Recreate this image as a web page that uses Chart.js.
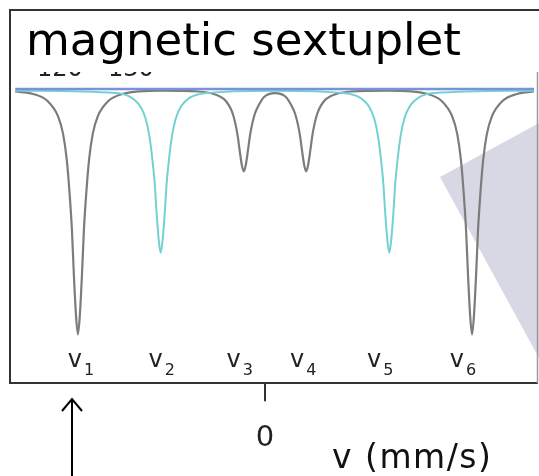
<!DOCTYPE html>
<html>
<head>
<meta charset="utf-8">
<script src="https://cdn.jsdelivr.net/npm/chart.js@4/dist/chart.umd.min.js"></script>
<style>
  html, body { margin: 0; padding: 0; background: #fff; overflow: hidden; }
  canvas { display: block; }
</style>
</head>
<body>
<canvas id="c" width="539" height="476"></canvas>
<script>
// ---- data -------------------------------------------------------------
const chartTitle = 'magnetic sextuplet';
const hiddenTickLabels = ['120', '130'];
const axisTitle = 'v (mm/s)';
const xTickValues = [0];

// the six absorption lines of the sextet (velocity in mm/s)
const lineNames = ['1', '2', '3', '4', '5', '6'];
const linePositions = [-5.04, -2.81, -0.57, 1.11, 3.35, 5.58];

// lines 1, 3, 4, 6 (intensity 3 : 1 : 1 : 3), absorption below the baseline
const lines1346Velocity = [
  -6.73, -6.25, -5.85, -5.58, -5.44, -5.34, -5.26, -5.20, -5.15, -5.09, -5.04,
  -4.99, -4.93, -4.88, -4.82, -4.74, -4.64, -4.50, -4.23, -3.83, -2.80,
  -1.78, -1.38, -1.11, -0.97, -0.87, -0.79, -0.73, -0.68, -0.62, -0.57,
  -0.52, -0.46, -0.41, -0.35, -0.27, -0.17, -0.03, 0.27,
  0.57, 0.71, 0.81, 0.89, 0.95, 1.00, 1.06, 1.11,
  1.16, 1.22, 1.27, 1.33, 1.41, 1.51, 1.65, 1.92, 2.32, 3.35,
  4.37, 4.77, 5.04, 5.18, 5.28, 5.36, 5.42, 5.47, 5.53, 5.58,
  5.63, 5.69, 5.74, 5.80, 5.88, 5.98, 6.12, 6.39, 6.79, 7.25
];
const lines1346Absorption = [
  -0.02, -0.05, -0.14, -0.32, -0.54, -0.86, -1.30, -1.73, -2.26, -2.78, -3.00,
  -2.78, -2.26, -1.73, -1.30, -0.86, -0.54, -0.32, -0.14, -0.05, -0.01,
  -0.02, -0.05, -0.11, -0.19, -0.29, -0.43, -0.58, -0.75, -0.93, -1.00,
  -0.93, -0.75, -0.58, -0.43, -0.29, -0.19, -0.09, -0.04,
  -0.09, -0.19, -0.29, -0.43, -0.58, -0.75, -0.93, -1.00,
  -0.93, -0.75, -0.58, -0.43, -0.29, -0.19, -0.11, -0.05, -0.02, -0.01,
  -0.05, -0.14, -0.32, -0.54, -0.86, -1.30, -1.73, -2.26, -2.78, -3.00,
  -2.78, -2.26, -1.73, -1.30, -0.86, -0.54, -0.32, -0.14, -0.05, -0.02
];

// lines 2 and 5 (intensity 2)
const lines25Velocity = [
  -6.73, -4.02, -3.62, -3.35, -3.21, -3.11, -3.03, -2.97, -2.92, -2.86, -2.81,
  -2.76, -2.70, -2.65, -2.59, -2.51, -2.41, -2.27, -2.00, -1.60, 0.27,
  2.14, 2.54, 2.81, 2.95, 3.05, 3.13, 3.19, 3.24, 3.30, 3.35,
  3.40, 3.46, 3.51, 3.57, 3.65, 3.75, 3.89, 4.16, 4.56, 7.25
];
const lines25Absorption = [
  -0.01, -0.04, -0.09, -0.21, -0.36, -0.58, -0.87, -1.15, -1.51, -1.85, -2.00,
  -1.85, -1.51, -1.15, -0.87, -0.58, -0.36, -0.21, -0.09, -0.04, -0.01,
  -0.04, -0.09, -0.21, -0.36, -0.58, -0.87, -1.15, -1.51, -1.85, -2.00,
  -1.85, -1.51, -1.15, -0.87, -0.58, -0.36, -0.21, -0.09, -0.04, -0.01
];

// flat baseline of the spectrum
const baselineVelocity = [-6.73, 7.25];
const baselineLevel = [0.01, 0.01];

// ---- helpers ------------------------------------------------------------
const zip = (xs, ys) => xs.map((x, i) => ({ x, y: ys[i] }));
const FONT = '"DejaVu Sans", Verdana, sans-serif';

// frame, captions, line names, arrow and the shaded wedge on the right
const decorations = {
  id: 'decorations',
  beforeDatasetsDraw(chart) {
    const ctx = chart.ctx;
    ctx.save();
    ctx.fillStyle = '#d8d8e4';
    ctx.beginPath();
    ctx.moveTo(440, 177);
    ctx.lineTo(539, 123);
    ctx.lineTo(539, 358);
    ctx.closePath();
    ctx.fill();
    ctx.restore();
  },
  afterDraw(chart, args, opts) {
    const ctx = chart.ctx;
    const area = chart.chartArea;
    const xs = chart.scales.x;
    ctx.save();

    // frame: top and left in dark grey, a thin right edge
    ctx.strokeStyle = '#333';
    ctx.lineWidth = 2;
    ctx.beginPath();
    ctx.moveTo(area.left, area.bottom);
    ctx.lineTo(area.left, area.top);
    ctx.lineTo(539, area.top);
    ctx.stroke();
    ctx.strokeStyle = '#9a9a9a';
    ctx.lineWidth = 1.5;
    ctx.beginPath();
    ctx.moveTo(area.right + 0.5, 72);
    ctx.lineTo(area.right + 0.5, area.bottom);
    ctx.stroke();

    // title inside the frame
    ctx.fillStyle = '#000';
    ctx.font = '45px ' + FONT;
    ctx.textBaseline = 'alphabetic';
    ctx.textAlign = 'left';
    ctx.fillText(chartTitle, 26, 55);

    // tick labels of an upper axis, almost fully hidden under the title band
    ctx.save();
    ctx.beginPath();
    ctx.rect(area.left + 2, 72, 200, 4);
    ctx.clip();
    ctx.fillStyle = '#222';
    ctx.font = '24px ' + FONT;
    ctx.fillText(hiddenTickLabels[0], 37, 75.5);
    ctx.fillText(hiddenTickLabels[1], 108, 75.5);
    ctx.restore();

    // line names v1 ... v6 under each absorption line
    ctx.fillStyle = '#222';
    linePositions.forEach((v, i) => {
      const cx = xs.getPixelForValue(v) + opts.labelShift[i];
      ctx.font = '24px ' + FONT;
      const wv = ctx.measureText('v').width;
      ctx.font = '16px ' + FONT;
      const wd = ctx.measureText(lineNames[i]).width;
      const left = cx - (wv + 2 + wd) / 2;
      ctx.font = '24px ' + FONT;
      ctx.fillText('v', left, 367);
      ctx.font = '16px ' + FONT;
      ctx.fillText(lineNames[i], left + wv + 2, 375);
    });

    // axis caption
    ctx.fillStyle = '#111';
    ctx.font = '33px ' + FONT;
    ctx.letterSpacing = '1.5px';
    ctx.fillText(axisTitle, 332, 468);
    ctx.letterSpacing = '0px';

    // arrow pointing up at the first line
    ctx.strokeStyle = '#000';
    ctx.lineWidth = 2;
    ctx.beginPath();
    ctx.moveTo(72, 476);
    ctx.lineTo(72, 399);
    ctx.moveTo(62, 411);
    ctx.lineTo(72, 399);
    ctx.lineTo(82, 411);
    ctx.stroke();

    ctx.restore();
  }
};

new Chart(document.getElementById('c'), {
  type: 'line',
  data: {
    datasets: [
      {
        label: 'baseline',
        data: zip(baselineVelocity, baselineLevel),
        borderColor: '#7a93d8',
        borderWidth: 2.5,
        pointRadius: 0,
        tension: 0
      },
      {
        label: 'lines 2, 5',
        data: zip(lines25Velocity, lines25Absorption),
        borderColor: '#72d2d2',
        borderWidth: 2,
        pointRadius: 0,
        cubicInterpolationMode: 'monotone'
      },
      {
        label: 'lines 1, 3, 4, 6',
        data: zip(lines1346Velocity, lines1346Absorption),
        borderColor: '#7c7c7c',
        borderWidth: 2.2,
        pointRadius: 0,
        cubicInterpolationMode: 'monotone'
      }
    ]
  },
  options: {
    responsive: false,
    animation: false,
    devicePixelRatio: 1,
    layout: { padding: { left: 10, top: 10, right: 2, bottom: 0 } },
    plugins: {
      legend: { display: false },
      tooltip: { enabled: false },
      decorations: { labelShift: [3, 1, -4, -3, -9, -9] }
    },
    scales: {
      x: {
        type: 'linear',
        position: 'bottom',
        min: -6.87,
        max: 7.33,
        afterBuildTicks: axis => { axis.ticks = xTickValues.map(value => ({ value })); },
        grid: {
          display: true,
          drawOnChartArea: false,
          drawTicks: true,
          tickLength: 18,
          color: '#333',
          lineWidth: 2
        },
        border: { display: true, color: '#333', width: 2 },
        ticks: {
          color: '#222',
          padding: 20,
          font: { family: FONT, size: 29 }
        }
      },
      y: {
        display: false,
        min: -3.6,
        max: 0.98
      }
    }
  },
  plugins: [decorations]
});
</script>
</body>
</html>
